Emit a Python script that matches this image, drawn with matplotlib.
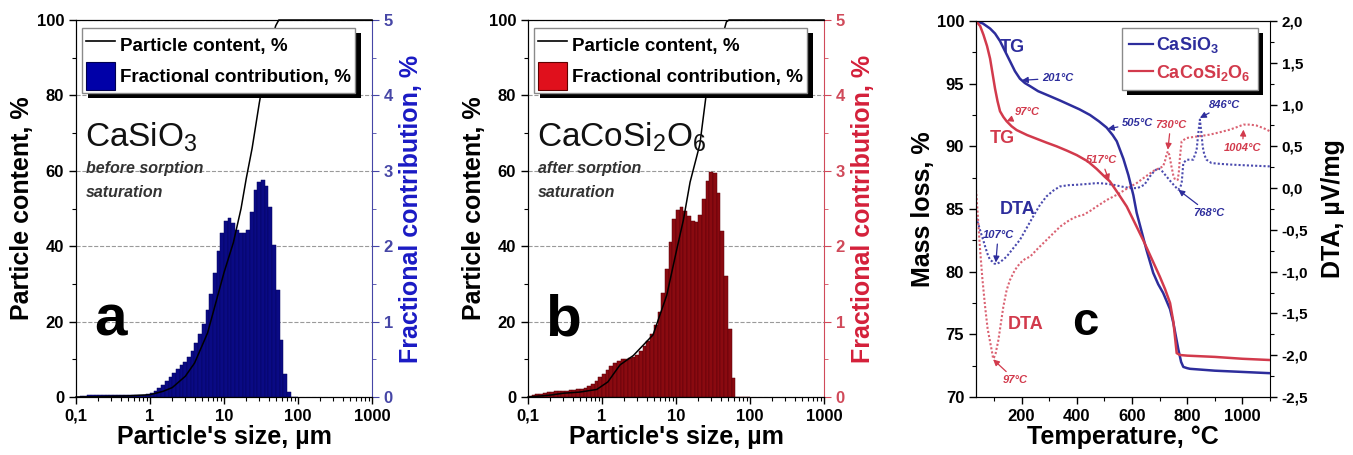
import numpy as np
import matplotlib
matplotlib.use("Agg")
import matplotlib.pyplot as plt
from matplotlib.ticker import MultipleLocator, LogLocator, NullFormatter, FuncFormatter, FixedLocator
from matplotlib.lines import Line2D
from matplotlib.patches import Patch, Rectangle
from matplotlib.transforms import IdentityTransform

plt.rcParams['font.family'] = ['Liberation Sans', 'DejaVu Sans']
plt.rcParams['mathtext.default'] = 'regular'

# ---------------- particle size distributions ----------------
# fractional contribution (%) per log-size bin, 20 bins per decade from 0.1 to 100 um
frac_casio3 = [
    0.005, 0.01, 0.015, 0.02, 0.02, 0.02, 0.02, 0.02, 0.02, 0.02,
    0.02, 0.02, 0.02, 0.02, 0.02, 0.02, 0.025, 0.03, 0.03, 0.035,
    0.05, 0.08, 0.12, 0.16, 0.21, 0.26, 0.32, 0.37, 0.42, 0.47,
    0.53, 0.61, 0.71, 0.83, 0.97, 1.15, 1.36, 1.65, 1.93, 2.18,
    2.33, 2.37, 2.31, 2.22, 2.17, 2.18, 2.22, 2.45, 2.74, 2.85,
    2.88, 2.80, 2.52, 2.02, 1.42, 0.75, 0.30, 0.06, 0.0, 0.0,
]
frac_cacosi2o6 = [
    0.01, 0.02, 0.035, 0.045, 0.055, 0.065, 0.07, 0.075, 0.08, 0.08,
    0.085, 0.09, 0.095, 0.10, 0.11, 0.12, 0.14, 0.17, 0.21, 0.26,
    0.31, 0.36, 0.41, 0.45, 0.48, 0.50, 0.51, 0.52, 0.53, 0.56,
    0.61, 0.67, 0.74, 0.83, 0.95, 1.13, 1.38, 1.70, 2.06, 2.36,
    2.48, 2.52, 2.47, 2.40, 2.34, 2.32, 2.42, 2.62, 2.86, 2.98,
    2.97, 2.70, 2.20, 1.60, 0.90, 0.25, 0.0, 0.0, 0.0, 0.0,
]

# cumulative particle content (%)
cum_size_casio3 = [0.1, 0.2, 0.5, 1, 1.5, 2, 3, 4, 6, 8, 10, 13.4, 17, 20, 24, 30, 40, 50, 55, 1000]
cum_casio3 = [0, 0.1, 0.3, 0.6, 1.5, 2.5, 5.5, 9, 17, 26, 33, 41, 50, 58, 66, 78, 92, 98.5, 100, 100]

cum_size_cacosi2o6 = [0.1, 0.2, 0.3, 0.5, 0.85, 1.2, 1.75, 2.65, 4.9, 7.5, 10.2, 12.6, 15.5, 21, 25.5, 35, 48, 52, 1000]
cum_cacosi2o6 = [0, 0.5, 1.0, 1.3, 2.0, 4.0, 8.5, 11, 16.5, 27, 39, 47, 57, 67, 80, 90, 99.5, 100, 100]

size_ticks = [0.1, 1, 10, 100, 1000]
size_tick_labels = ['0,1', '1', '10', '100', '1000']

# ---------------- thermal analysis ----------------
t_tg_casio3 = [35, 60, 86, 104, 122, 140, 158, 176, 194, 212, 231, 260, 303, 340, 375, 410, 448,
               480, 508, 530, 545, 569, 587, 605, 617, 635, 653, 677, 695, 713, 738, 750, 768,
               778, 786, 800, 810, 900, 1000, 1100]
tg_casio3 = [100, 99.8, 99.4, 99.0, 98.4, 97.6, 96.8, 96.0, 95.4, 95.05, 94.8, 94.4, 94.0, 93.65,
             93.3, 92.95, 92.5, 92.0, 91.5, 90.9, 90.4, 89.0, 87.7, 86.1, 84.7, 83.2, 81.7, 79.9,
             79.0, 78.3, 77.0, 75.9, 73.8, 72.8, 72.4, 72.3, 72.25, 72.1, 72.0, 71.9]

t_tg_cacosi2o6 = [35, 50, 62, 75, 86, 95, 104, 113, 122, 134, 146, 164, 182, 220, 255, 290, 327,
                  365, 400, 440, 472, 500, 520, 545, 581, 610, 641, 670, 701, 720, 738, 750, 762,
                  774, 800, 900, 1000, 1100]
tg_cacosi2o6 = [100, 99.6, 98.9, 98.0, 97.0, 95.8, 94.6, 93.6, 92.8, 92.35, 92.0, 91.6, 91.3,
                90.9, 90.6, 90.3, 90.0, 89.65, 89.3, 88.8, 88.2, 87.6, 87.2, 86.4, 85.2, 83.9,
                82.5, 81.1, 79.6, 78.6, 77.5, 76.0, 73.5, 73.35, 73.3, 73.2, 73.05, 72.95]

t_dta_casio3 = [35, 45, 55, 61, 70, 78, 86, 95, 100, 107, 120, 132, 146, 165, 194, 218, 242, 265,
                290, 315, 339, 370, 400, 440, 472, 500, 533, 560, 593, 620, 645, 665, 680, 695,
                710, 725, 740, 756, 768, 775, 780, 783, 786, 798, 822, 828, 834, 840, 846, 851,
                856, 862, 870, 888, 920, 966, 1030, 1100]
dta_casio3 = [-0.35, -0.45, -0.56, -0.62, -0.72, -0.80, -0.86, -0.88, -0.90, -0.91, -0.89, -0.86,
              -0.82, -0.74, -0.62, -0.48, -0.34, -0.21, -0.10, -0.03, 0.02, 0.035, 0.04, 0.05,
              0.06, 0.055, 0.04, 0.02, 0.0, 0.0, 0.04, 0.14, 0.20, 0.24, 0.20, 0.14, 0.08, 0.02,
              -0.02, 0.01, 0.06, 0.18, 0.30, 0.34, 0.34, 0.40, 0.45, 0.65, 0.82, 0.68, 0.50,
              0.40, 0.34, 0.30, 0.29, 0.28, 0.27, 0.26]

t_dta_cacosi2o6 = [35, 40, 49, 58, 68, 77, 86, 93, 97, 100, 106, 116, 125, 134, 146, 158, 176, 194,
                   212, 231, 260, 303, 340, 375, 400, 424, 450, 472, 510, 545, 580, 617, 650, 680,
                   700, 713, 720, 725, 730, 735, 743, 750, 756, 766, 770, 774, 780, 798, 840, 882,
                   920, 955, 980, 1004, 1027, 1050, 1075, 1100]
dta_cacosi2o6 = [-0.02, -0.25, -0.70, -1.08, -1.42, -1.68, -1.84, -1.96, -2.04, -2.03, -1.98,
                 -1.82, -1.62, -1.42, -1.22, -1.10, -0.98, -0.90, -0.85, -0.82, -0.72, -0.58,
                 -0.46, -0.38, -0.34, -0.32, -0.27, -0.22, -0.14, -0.08, -0.01, 0.06, 0.14, 0.21,
                 0.24, 0.26, 0.33, 0.40, 0.44, 0.40, 0.26, 0.15, 0.10, 0.10, 0.20, 0.38, 0.56,
                 0.60, 0.62, 0.64, 0.67, 0.70, 0.73, 0.76, 0.76, 0.75, 0.72, 0.68]

BLUE = '#2d2d9c'
RED = '#d23a4c'
BLUE_DOT = '#4a4aae'
RED_DOT = '#da6272'

W, H = 1353, 455
fig = plt.figure(figsize=(W / 100, H / 100), dpi=100)
fig.patch.set_facecolor('white')

LABEL_FONT = dict(fontsize=18, fontweight='bold')


def comma_fmt(decimals):
    return FuncFormatter(lambda v, p: f'{v:.{decimals}f}'.replace('.', ','))


def add_shadow(ax, leg, dx=6, dy=5):
    fig.canvas.draw()
    bb = leg.get_window_extent()
    shade = Rectangle((bb.x0 + dx, bb.y0 - dy), bb.width, bb.height,
                      transform=IdentityTransform(), facecolor='black',
                      edgecolor='none', zorder=leg.get_zorder() - 0.01, clip_on=False)
    ax.add_artist(shade)


edges = np.logspace(-1, 2, 61)


def psd_panel(left_px, heights, cum_x, cum_y, bar_fc, bar_ec, leg_fc, leg_ec,
              spine_col, label_col, formula, note_lines, letter):
    ax = fig.add_axes([left_px / W, (H - 397) / H, 296 / W, 377 / H])
    axr = ax.twinx()
    ax.set_zorder(axr.get_zorder() + 1)
    ax.patch.set_visible(False)

    ax.set_xscale('log')
    ax.set_xlim(0.1, 1000)
    ax.set_ylim(0, 100)
    axr.set_ylim(0, 5)

    axr.set_axisbelow(True)
    axr.bar(edges[:-1], heights, width=np.diff(edges), align='edge',
            color=bar_fc, edgecolor=bar_ec, linewidth=0.35)
    ax.plot(cum_x, cum_y, color='black', lw=1.1, clip_on=False, zorder=3)

    ax.xaxis.set_major_locator(FixedLocator(size_ticks))
    ax.set_xticklabels(size_tick_labels)
    ax.xaxis.set_minor_locator(LogLocator(base=10, subs=np.arange(2, 10)))
    ax.xaxis.set_minor_formatter(NullFormatter())
    ax.yaxis.set_major_locator(MultipleLocator(20))
    ax.yaxis.set_minor_locator(MultipleLocator(10))
    axr.yaxis.set_major_locator(MultipleLocator(1))
    axr.yaxis.set_minor_locator(MultipleLocator(0.5))

    axr.xaxis.grid(True, which='both', ls=':', color='#b8b8b8', lw=0.8)
    axr.yaxis.grid(True, which='major', ls='--', color='#9a9a9a', lw=0.8)

    ax.tick_params(which='both', direction='out', right=False, top=False)
    ax.tick_params(which='major', length=5, width=1)
    ax.tick_params(which='minor', length=3, width=0.8)
    for lab in ax.get_xticklabels() + ax.get_yticklabels():
        lab.set_fontsize(12)
        lab.set_fontweight('bold')
    axr.tick_params(which='both', direction='out', colors=spine_col)
    axr.tick_params(which='major', length=5)
    axr.tick_params(which='minor', length=3)
    for lab in axr.get_yticklabels():
        lab.set_fontsize(12)
        lab.set_fontweight('bold')
        lab.set_color(spine_col)
    ax.spines['right'].set_visible(False)
    axr.spines['right'].set_color(spine_col)

    ax.set_xlabel("Particle's size, µm", labelpad=1, **LABEL_FONT)
    ax.set_ylabel('Particle content, %', labelpad=2, **LABEL_FONT)
    axr.set_ylabel('Fractional contribution, %', color=label_col, labelpad=4, **LABEL_FONT)

    handles = [Line2D([], [], color='black', lw=1.2),
               Patch(facecolor=leg_fc, edgecolor=leg_ec, lw=0.8)]
    leg = ax.legend(handles, ['Particle content, %', 'Fractional contribution, %'],
                    loc='upper left', bbox_to_anchor=(0.02, 0.98), borderaxespad=0,
                    fancybox=False, framealpha=1, edgecolor='#8a8a8a',
                    prop=dict(size=13.5, weight='bold'), handlelength=1.55,
                    handleheight=1.9, handletextpad=0.3, labelspacing=0.15,
                    borderpad=0.2)
    leg.get_frame().set_linewidth(1.0)
    add_shadow(ax, leg)

    ax.text(0.03, 0.664, formula, transform=ax.transAxes, fontsize=24,
            color='#111111', va='baseline')
    for i, line in enumerate(note_lines):
        ax.text(0.034, 0.594 - 0.064 * i, line, transform=ax.transAxes, fontsize=11.5,
                fontweight='bold', fontstyle='italic', color='#333333', va='baseline')
    ax.text(0.118, 0.164, letter, transform=ax.transAxes, fontsize=42,
            fontweight='bold', ha='center', va='baseline', color='black')
    return ax


psd_panel(76, frac_casio3, cum_size_casio3, cum_casio3, '#0a0a84', '#050560',
          '#0000a8', '#000050', '#4646a6', '#1a1ac4',
          'CaSiO$_3$', ['before sorption', 'saturation'], 'a')
psd_panel(528, frac_cacosi2o6, cum_size_cacosi2o6, cum_cacosi2o6, '#8a0a10', '#5a0008',
          '#e0101c', '#600000', '#d04a5a', '#d4203a',
          'CaCoSi$_2$O$_6$', ['after sorption', 'saturation'], 'b')

# ---------------- thermal analysis panel ----------------
axc = fig.add_axes([976 / W, (H - 397) / H, 294 / W, 376 / H])
axcr = axc.twinx()
axc.set_zorder(axcr.get_zorder() + 1)
axc.patch.set_visible(False)

axc.set_xlim(35, 1100)
axc.set_ylim(70, 100)
axcr.set_ylim(-2.5, 2.0)

axcr.plot(t_dta_casio3, dta_casio3, color=BLUE_DOT, lw=1.5, ls=(0, (1, 1)))
axcr.plot(t_dta_cacosi2o6, dta_cacosi2o6, color=RED_DOT, lw=1.5, ls=(0, (1, 1)))
axc.plot(t_tg_casio3, tg_casio3, color=BLUE, lw=1.8)
axc.plot(t_tg_cacosi2o6, tg_cacosi2o6, color=RED, lw=1.8)

axc.xaxis.set_major_locator(MultipleLocator(200))
axc.xaxis.set_minor_locator(MultipleLocator(100))
axc.yaxis.set_major_locator(MultipleLocator(5))
axc.yaxis.set_minor_locator(MultipleLocator(2.5))
axcr.yaxis.set_major_locator(MultipleLocator(0.5))
axcr.yaxis.set_minor_locator(MultipleLocator(0.25))
axcr.yaxis.set_major_formatter(comma_fmt(1))
for a in (axc, axcr):
    a.tick_params(which='both', direction='out', top=False)
    a.tick_params(which='major', length=5, width=1)
    a.tick_params(which='minor', length=3, width=0.8)
axc.tick_params(right=False)
axc.spines['right'].set_visible(False)
for lab in axc.get_xticklabels() + axc.get_yticklabels():
    lab.set_fontsize(12)
    lab.set_fontweight('bold')
for lab in axcr.get_yticklabels():
    lab.set_fontsize(11)
    lab.set_fontweight('bold')

axc.set_xlabel('Temperature, °C', labelpad=1, **LABEL_FONT)
axc.set_ylabel('Mass loss, %', labelpad=1, **LABEL_FONT)
axcr.set_ylabel('DTA, µV/mg', labelpad=9, **LABEL_FONT)

axc.text(122, 97.9, 'TG', color=BLUE, fontsize=13, fontweight='bold', va='center')
axc.text(84, 90.6, 'TG', color=RED, fontsize=13, fontweight='bold', va='center')
axc.text(120, 85.0, 'DTA', color=BLUE, fontsize=13, fontweight='bold', va='center')
axc.text(150, 75.75, 'DTA', color=RED, fontsize=13, fontweight='bold', va='center')
axc.text(0.37, 0.165, 'c', transform=axc.transAxes, fontsize=34, fontweight='bold',
         ha='center', va='baseline')

ANN = dict(fontsize=8, fontweight='bold', fontstyle='italic')


def mark(ax, label, xy, xytext, color, ha='left'):
    ax.annotate(label, xy=xy, xytext=xytext, color=color, ha=ha, va='center',
                arrowprops=dict(arrowstyle='-|>', color=color, lw=0.9,
                                mutation_scale=9, shrinkA=1, shrinkB=0), **ANN)


mark(axc, '201°C', (201, np.interp(201, t_tg_casio3, tg_casio3)), (274, 95.45), BLUE)
mark(axc, '97°C', (146, np.interp(146, t_tg_cacosi2o6, tg_cacosi2o6)), (176, 92.7), RED)
mark(axc, '505°C', (512, np.interp(512, t_tg_casio3, tg_casio3)), (564, 91.85), BLUE)
mark(axc, '517°C', (517, np.interp(517, t_tg_cacosi2o6, tg_cacosi2o6)), (490, 88.9), RED, ha='center')
mark(axcr, '730°C', (730, 0.46), (740, 0.76), RED, ha='center')
mark(axcr, '846°C', (846, 0.84), (880, 1.0), BLUE)
mark(axcr, '1004°C', (1004, 0.70), (1000, 0.48), RED, ha='center')
mark(axcr, '768°C', (768, -0.02), (822, -0.30), BLUE)
mark(axcr, '107°C', (107, -0.89), (115, -0.56), BLUE, ha='center')
mark(axcr, '97°C', (97, -2.05), (133, -2.30), RED)

leg_c = axc.legend([Line2D([], [], color=BLUE, lw=1.6), Line2D([], [], color=RED, lw=1.6)],
                   ['CaSiO$_3$', 'CaCoSi$_2$O$_6$'], loc='upper right',
                   bbox_to_anchor=(0.959, 0.981), borderaxespad=0, fancybox=False,
                   framealpha=1, edgecolor='#8a8a8a', prop=dict(size=13, weight='bold'),
                   labelcolor='linecolor', handlelength=1.3, handletextpad=0.2,
                   labelspacing=0.4, borderpad=0.4)
leg_c.get_frame().set_linewidth(1.0)
add_shadow(axc, leg_c, dx=5, dy=5)

fig.savefig('out.png', dpi=100, facecolor='white')
